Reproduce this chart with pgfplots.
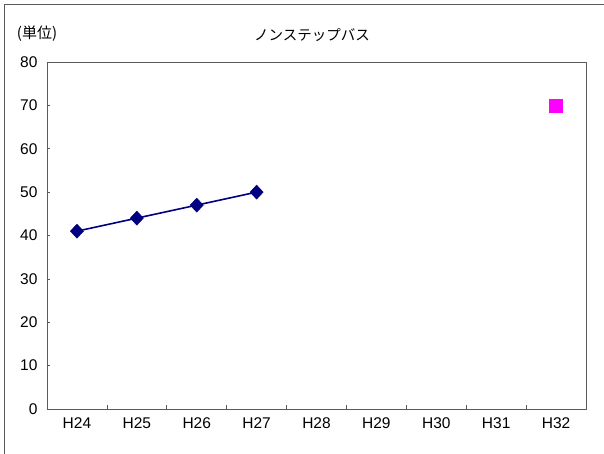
\documentclass[border=0pt]{standalone}
\usepackage{pgfplots}
\pgfplotsset{compat=1.18}
\usepackage{fontspec}
\setmainfont{Liberation Sans}
\newfontfamily\jpfont{Noto Sans CJK JP}
\definecolor{navyline}{HTML}{000080}
\definecolor{pinkmark}{HTML}{FF00FF}
\definecolor{framegray}{HTML}{5A5A5A}
\begin{document}
\begin{tikzpicture}[x=1pt,y=1pt]
\useasboundingbox (0,0) rectangle (604,454);
% chart area frame
\draw[framegray, line width=0.9pt] (4,0) -- (4,450) -- (604,450);
% titles
\node[font=\jpfont\fontsize{14.5}{16}\selectfont] at (312,419) {ノンステップバス};
\node[font=\jpfont\fontsize{15}{17}\selectfont] at (37,420) {(単位)};
\begin{axis}[
  at={(47pt,45pt)}, anchor=south west,
  scale only axis, width=539pt, height=347pt,
  xmin=-0.5, xmax=8.5, ymin=0, ymax=80,
  ytick={0,10,...,80},
  xtick={0,...,8},
  xticklabels={H24,H25,H26,H27,H28,H29,H30,H31,H32},
  minor xtick={0.5,1.5,...,7.5},
  major x tick style={draw=none},
  tick align=inside,
  xtick pos=bottom, ytick pos=left,
  major tick length=3pt, minor tick length=4pt,
  axis line style={framegray, line width=0.8pt},
  tick style={framegray, line width=0.7pt},
  ticklabel style={font=\fontsize{15.5}{17}\selectfont},
  /pgf/number format/assume math mode=true,
  yticklabel style={xshift=-6pt},
  xticklabel style={yshift=-5pt},
  clip=false,
]
\addplot[navyline, line width=1.6pt, mark=diamond*, mark size=7pt,
  mark options={fill=navyline, draw=navyline, line width=0.5pt, xscale=1.25}]
  coordinates {(0,41) (1,44) (2,47) (3,50)};
\addplot[only marks, mark=square*, mark size=6.5pt,
  mark options={fill=pinkmark, draw=pinkmark}]
  coordinates {(8,70)};
\end{axis}
\end{tikzpicture}
\end{document}
